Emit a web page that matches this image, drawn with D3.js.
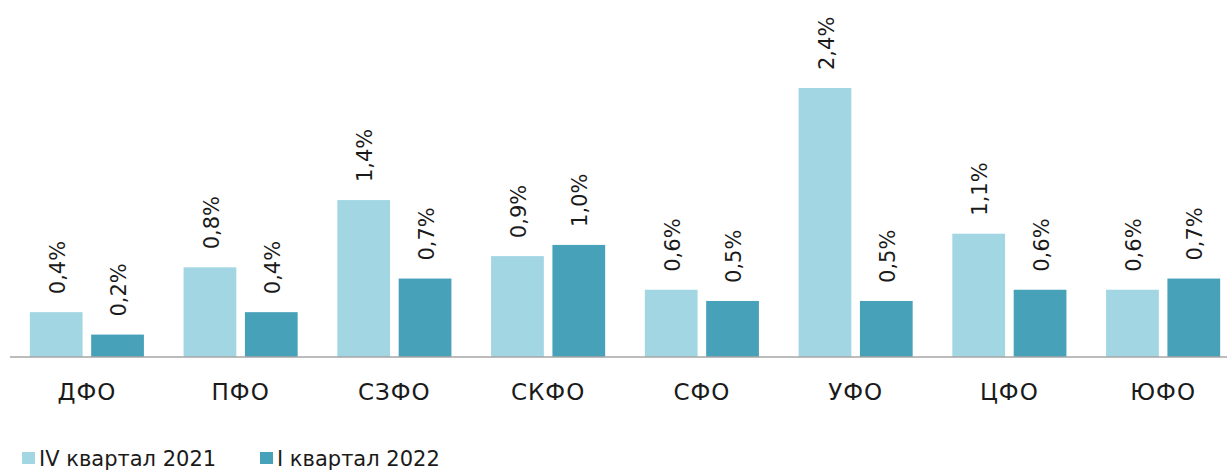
<!DOCTYPE html>
<html>
<head>
<meta charset="utf-8">
<script src="https://cdn.jsdelivr.net/npm/d3@7"></script>
<style>
  html, body { margin: 0; padding: 0; background: #ffffff; }
  svg { display: block; font-family: "DejaVu Sans", sans-serif; }
</style>
</head>
<body>
<svg id="chart" width="1227" height="472"></svg>
<script>
// Federal districts and the two quarterly series (percent)
const categories = ["ДФО", "ПФО", "СЗФО", "СКФО", "СФО", "УФО", "ЦФО", "ЮФО"];
const seriesNames = ["IV квартал 2021", "I квартал 2022"];
const valuesQ4_2021 = [0.4, 0.8, 1.4, 0.9, 0.6, 2.4, 1.1, 0.6];
const valuesQ1_2022 = [0.2, 0.4, 0.7, 1.0, 0.5, 0.5, 0.6, 0.7];
const colors = ["#a2d6e2", "#47a1b9"];

const svg = d3.select("#chart");
const W = 1227, H = 472;
const baseY = 357;

const rows = categories.map((c, i) => ({
  cat: c,
  vals: [valuesQ4_2021[i], valuesQ1_2022[i]]
}));

const x0 = d3.scaleBand()
  .domain(categories)
  .range([10, 1240])
  .paddingInner(0.258)
  .paddingOuter(0.129);

const x1 = d3.scaleBand()
  .domain([0, 1])
  .range([0, x0.bandwidth()])
  .paddingInner(0.14);

const y = d3.scaleLinear().domain([0, 2.4]).range([baseY, 88]);

const fmt = v => d3.format(".1f")(v).replace(".", ",") + "%";

const groups = svg.append("g").selectAll("g")
  .data(rows)
  .join("g")
  .attr("transform", d => `translate(${x0(d.cat)},0)`);

groups.selectAll("rect")
  .data(d => d.vals.map((v, k) => ({ v, k })))
  .join("rect")
  .attr("x", d => x1(d.k))
  .attr("y", d => y(d.v))
  .attr("width", x1.bandwidth())
  .attr("height", d => baseY - y(d.v))
  .attr("fill", d => colors[d.k]);

// Rotated value labels above each bar
groups.selectAll("text.val")
  .data(d => d.vals.map((v, k) => ({ v, k })))
  .join("text")
  .attr("class", "val")
  .attr("transform", d => `translate(${x1(d.k) + x1.bandwidth() / 2 + 1},${y(d.v) - 18}) rotate(-90)`)
  .attr("dy", "0.36em")
  .attr("font-size", 21)
  .attr("fill", "#1a1a1a")
  .text(d => fmt(d.v));

// Baseline axis
const xAxis = d3.axisBottom(x0).tickSize(0).tickPadding(0);
const axisG = svg.append("g")
  .attr("transform", `translate(0,${baseY})`)
  .call(xAxis);
axisG.select(".domain")
  .attr("d", `M10,0H${W}`)
  .attr("stroke", "#a6a6a6")
  .attr("stroke-width", 1.6);
axisG.selectAll(".tick text")
  .attr("y", 43)
  .attr("dy", 0)
  .attr("font-size", 23)
  .attr("letter-spacing", "1px")
  .attr("font-family", "DejaVu Sans, sans-serif")
  .attr("fill", "#1a1a1a");

// Legend
const legendX = [22, 260];
const legend = svg.append("g").selectAll("g")
  .data(seriesNames)
  .join("g")
  .attr("transform", (d, i) => `translate(${legendX[i]},0)`);
legend.append("rect")
  .attr("x", 0).attr("y", 452)
  .attr("width", 13).attr("height", 12)
  .attr("fill", (d, i) => colors[i]);
legend.append("text")
  .attr("x", 17).attr("y", 466)
  .attr("font-size", 21)
  .attr("fill", "#1a1a1a")
  .text(d => d);
</script>
</body>
</html>
